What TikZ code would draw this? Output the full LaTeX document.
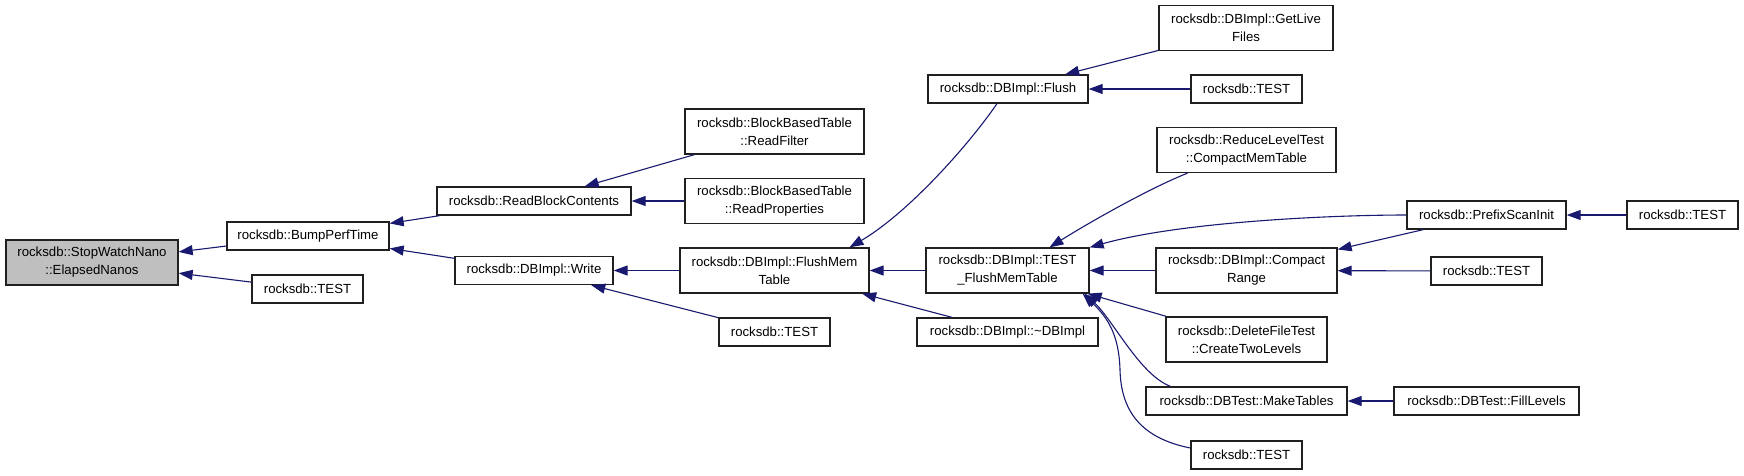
\documentclass[tikz,border=0pt]{standalone}
\usepackage{fontspec}
\setmainfont{Liberation Sans}
\usetikzlibrary{arrows.meta,calc}
\definecolor{edgecol}{HTML}{191970}
\definecolor{hilite}{HTML}{BFBFBF}
\definecolor{boxline}{HTML}{202020}
\tikzset{
  box/.style={draw=boxline, line width=1.3pt, fill=white, rectangle, inner sep=0pt, align=center,
    font=\fontsize{13.2}{18}\selectfont},
  conn/.style={draw=edgecol, line width=1.1pt, -{Triangle[length=14pt,width=10pt]}},
}
\begin{document}
\begin{tikzpicture}[x=1pt,y=-1pt]
\useasboundingbox (0,0) rectangle (1744,475);
\node[box, fill=hilite, minimum width=172pt, minimum height=45pt] (sw) at (92,262.5) {rocksdb::StopWatchNano\\::ElapsedNanos};
\node[box, minimum width=162pt, minimum height=28pt] (bump) at (308,236) {rocksdb::BumpPerfTime};
\node[box, minimum width=111pt, minimum height=28pt] (t1) at (307.5,289) {rocksdb::TEST};
\node[box, minimum width=194pt, minimum height=28pt] (rbc) at (534,201) {rocksdb::ReadBlockContents};
\node[box, minimum width=158pt, minimum height=28pt] (write) at (534,270.5) {rocksdb::DBImpl::Write};
\node[box, minimum width=179pt, minimum height=45pt] (rf) at (774.5,131.5) {rocksdb::BlockBasedTable\\::ReadFilter};
\node[box, minimum width=179pt, minimum height=45pt] (rp) at (774.5,201) {rocksdb::BlockBasedTable\\::ReadProperties};
\node[box, minimum width=189pt, minimum height=45pt] (fmt) at (774.5,270.5) {rocksdb::DBImpl::FlushMem\\Table};
\node[box, minimum width=111pt, minimum height=28pt] (tw) at (774.5,332) {rocksdb::TEST};
\node[box, minimum width=160pt, minimum height=28pt] (flush) at (1008,89) {rocksdb::DBImpl::Flush};
\node[box, minimum width=163pt, minimum height=45pt] (tfmt) at (1007.5,270.5) {rocksdb::DBImpl::TEST\\\_FlushMemTable};
\node[box, minimum width=181pt, minimum height=28pt] (dtor) at (1007.5,332) {rocksdb::DBImpl::\textasciitilde DBImpl};
\node[box, minimum width=174pt, minimum height=45pt] (glf) at (1246,28) {rocksdb::DBImpl::GetLive\\Files};
\node[box, minimum width=111pt, minimum height=28pt] (tf) at (1246.5,89) {rocksdb::TEST};
\node[box, minimum width=179pt, minimum height=45pt] (rlt) at (1246.5,150) {rocksdb::ReduceLevelTest\\::CompactMemTable};
\node[box, minimum width=181pt, minimum height=45pt] (cr) at (1246.5,270.5) {rocksdb::DBImpl::Compact\\Range};
\node[box, minimum width=161pt, minimum height=45pt] (dft) at (1246.5,339.5) {rocksdb::DeleteFileTest\\::CreateTwoLevels};
\node[box, minimum width=201pt, minimum height=28pt] (mt) at (1246.5,401) {rocksdb::DBTest::MakeTables};
\node[box, minimum width=111pt, minimum height=28pt] (tb) at (1246.5,455) {rocksdb::TEST};
\node[box, minimum width=159pt, minimum height=28pt] (psi) at (1486.5,215) {rocksdb::PrefixScanInit};
\node[box, minimum width=111pt, minimum height=28pt] (tcr) at (1486.5,271) {rocksdb::TEST};
\node[box, minimum width=185pt, minimum height=28pt] (fl) at (1486.5,401) {rocksdb::DBTest::FillLevels};
\node[box, minimum width=111pt, minimum height=28pt] (tp) at (1682.5,215) {rocksdb::TEST};

\draw[conn] (bump) -- (sw);
\draw[conn] (t1) -- (sw);
\draw[conn] (rbc) -- (bump);
\draw[conn] (write) -- (bump);
\draw[conn] (rf) -- (rbc);
\draw[conn] (rp) -- (rbc);
\draw[conn] (fmt) -- (write);
\draw[conn] (tw) -- (write);
\draw[conn] ($(flush.south)+(-11,0)$) .. controls (965,150) and (905,215) .. ($(fmt.north)+(75,0)$);
\draw[conn] (tfmt) -- (fmt);
\draw[conn] (dtor) -- (fmt);
\draw[conn] (glf) -- (flush);
\draw[conn] (tf) -- (flush);
\draw[conn] ($(rlt.south)+(-59,0)$) .. controls (1150,188) and (1090,222) .. ($(tfmt.north)+(42,0)$);
\draw[conn] (psi.west) .. controls (1330,215) and (1180,222) .. (tfmt.north east);
\draw[conn] (cr) -- (tfmt);
\draw[conn] (dft) -- (tfmt);
\draw[conn] ($(mt.north)+(-76,0)$) .. controls (1140,375) and (1113,320) .. ($(tfmt.south east)+(-5,0)$);
\draw[conn] ($(tb.west)+(0,-7)$) .. controls (1140,438) and (1121,410) .. (1120,370) .. controls (1119,335) and (1108,318) .. ($(tfmt.south east)+(-7,0)$);
\draw[conn] (psi) -- (cr);
\draw[conn] (tcr) -- (cr);
\draw[conn] (tp) -- (psi);
\draw[conn] (fl) -- (mt);
\end{tikzpicture}
\end{document}
